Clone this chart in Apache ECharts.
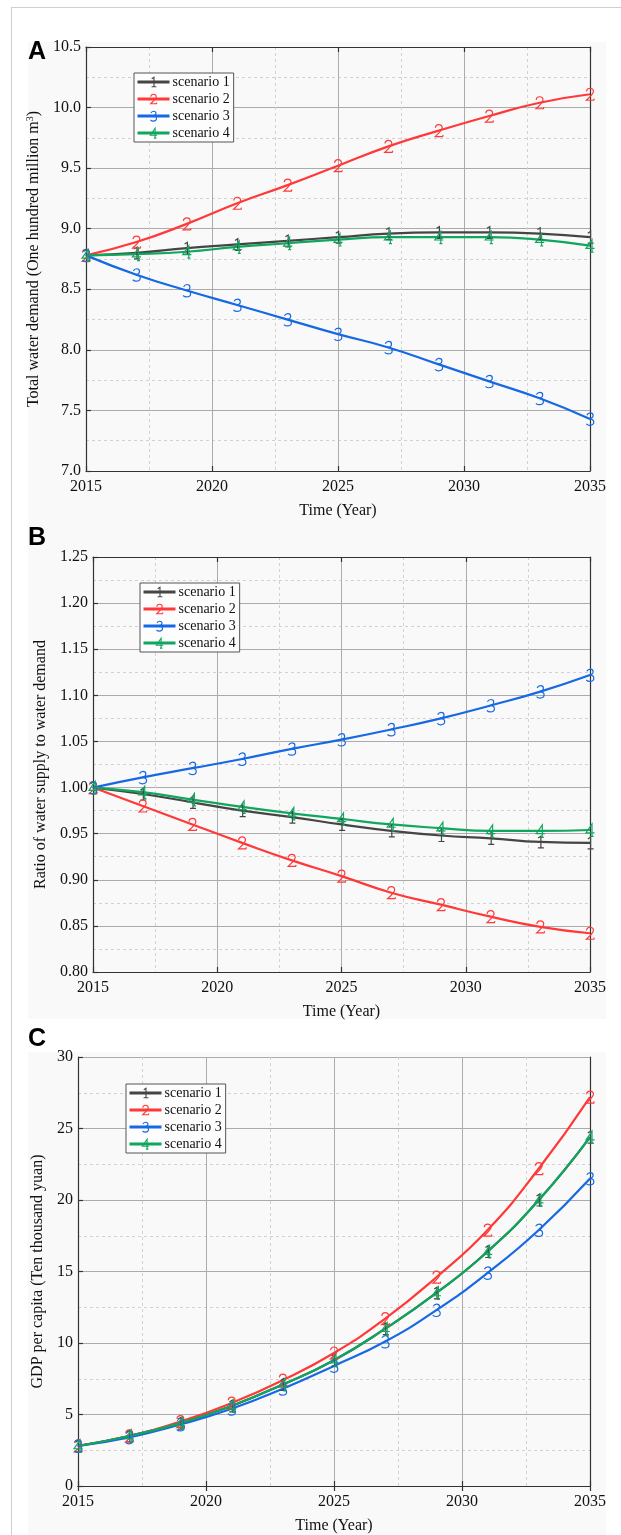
<!DOCTYPE html>
<html>
<head>
<meta charset="utf-8">
<script src="https://cdn.jsdelivr.net/npm/echarts@6/dist/echarts.min.js"></script>
<style>
  html, body { margin: 0; padding: 0; background: #fff; }
  #main { width: 621px; height: 1535px; }
</style>
</head>
<body>
<div id="main"></div>
<script>
const years = [2015, 2017, 2019, 2021, 2023, 2025, 2027, 2029, 2031, 2033, 2035];
const scenarioNames = ["scenario 1", "scenario 2", "scenario 3", "scenario 4"];

// A: total water demand
const demandS1 = [8.78, 8.80, 8.84, 8.87, 8.90, 8.93, 8.96, 8.97, 8.97, 8.96, 8.93];
const demandS2 = [8.78, 8.89, 9.04, 9.21, 9.36, 9.52, 9.68, 9.81, 9.93, 10.04, 10.11];
const demandS3 = [8.78, 8.62, 8.49, 8.37, 8.25, 8.13, 8.02, 7.88, 7.74, 7.60, 7.43];
const demandS4 = [8.78, 8.79, 8.81, 8.85, 8.88, 8.91, 8.93, 8.93, 8.93, 8.91, 8.86];

// B: ratio of supply to demand
const ratioS1 = [1.000, 0.993, 0.984, 0.975, 0.968, 0.960, 0.953, 0.948, 0.945, 0.941, 0.940];
const ratioS2 = [1.000, 0.980, 0.960, 0.940, 0.921, 0.904, 0.886, 0.873, 0.860, 0.849, 0.842];
const ratioS3 = [1.000, 1.011, 1.021, 1.031, 1.042, 1.052, 1.063, 1.075, 1.089, 1.104, 1.122];
const ratioS4 = [1.000, 0.995, 0.987, 0.979, 0.972, 0.966, 0.960, 0.956, 0.953, 0.953, 0.954];

// C: GDP per capita
const gdpS1 = [2.8, 3.5, 4.4, 5.6, 7.1, 8.8, 11.0, 13.5, 16.4, 20.0, 24.4];
const gdpS2 = [2.8, 3.5, 4.5, 5.8, 7.4, 9.3, 11.7, 14.6, 17.9, 22.2, 27.2];
const gdpS3 = [2.8, 3.4, 4.3, 5.4, 6.8, 8.4, 10.1, 12.3, 14.9, 17.9, 21.5];
const gdpS4 = [2.8, 3.5, 4.4, 5.6, 7.1, 8.8, 11.0, 13.5, 16.4, 20.0, 24.4];

const colors = ["#454545", "#ff3838", "#1668e3", "#0fa65e"];

// digit-shaped markers (stroked)
const digitPaths = [
  "path://M-2 0M12 14M2.8 3L5.6 1.2L5.6 13M2.6 13L8.6 13",
  "path://M-2 0M12 14M1.6 4.2C1.8 2 3.3 1 5 1C7 1 8.4 2.4 8.4 4.2C8.4 6.6 5.4 9.2 1.4 13L8.8 13L9.3 11.4",
  "path://M-2 0M12 14M1.8 3.2C2.6 1.8 3.8 1 5.2 1C7 1 8.1 2.2 8.1 3.7C8.1 5.4 6.6 6.6 4.3 6.9C7 6.9 8.8 8.3 8.8 10.2C8.8 12.3 7 13.4 4.8 13.4C3.3 13.4 2.2 12.9 1.3 12",
  "path://M-2 0M12 14M7 13.4L7 1L1 9.8L9.6 9.8M5.6 13.4L8.6 13.4"
];

const serif = "Liberation Serif";

const panels = [
  {
    grid: { left: 86, top: 47, right: 31, height: 424 },
    yMin: 7, yMax: 10.5, yInterval: 0.5, digits: 1,
    yName: "Total water demand (One hundred million m{sup|3})", yGap: 34,
    data: [demandS1, demandS2, demandS3, demandS4],
    legend: { left: 134, top: 73 }
  },
  {
    grid: { left: 93, top: 557, right: 31, height: 415 },
    yMin: 0.8, yMax: 1.25, yInterval: 0.05, digits: 2,
    yName: "Ratio of water supply to water demand", yGap: 40,
    data: [ratioS1, ratioS2, ratioS3, ratioS4],
    legend: { left: 140, top: 583 }
  },
  {
    grid: { left: 78, top: 1057, right: 31, height: 432 },
    yMin: 0, yMax: 30, yInterval: 5, digits: 0,
    yName: "GDP per capita (Ten thousand yuan)", yGap: 30,
    data: [gdpS1, gdpS2, gdpS3, gdpS4],
    legend: { left: 126, top: 1084 }
  }
];

const option = {
  animation: false,
  backgroundColor: "#ffffff",
  grid: [],
  xAxis: [],
  yAxis: [],
  legend: [],
  series: [],
  graphic: [
    { type: "rect", z: -100, silent: true, shape: { x: 28, y: 42, width: 578, height: 977 }, style: { fill: "#f9f9f9" } },
    { type: "rect", z: -100, silent: true, shape: { x: 28, y: 1052, width: 578, height: 483 }, style: { fill: "#f9f9f9" } },
    { type: "line", z: -90, silent: true, shape: { x1: 12, y1: 7.5, x2: 621, y2: 7.5 }, style: { stroke: "#cfcfcf", lineWidth: 1 } },
    { type: "line", z: -90, silent: true, shape: { x1: 11.5, y1: 7, x2: 11.5, y2: 1535 }, style: { stroke: "#cfcfcf", lineWidth: 1 } },
    { type: "text", left: 28, top: 40, style: { text: "A", font: "bold 25px 'Liberation Sans'", fill: "#000" } },
    { type: "text", left: 28, top: 526, style: { text: "B", font: "bold 25px 'Liberation Sans'", fill: "#000" } },
    { type: "text", left: 28, top: 1027, style: { text: "C", font: "bold 25px 'Liberation Sans'", fill: "#000" } }
  ]
};

const axisLineStyle = { color: "#333", width: 1.2 };

panels.forEach((p, i) => {
  option.grid.push(p.grid);

  // bottom axis
  option.xAxis.push({
    type: "value", gridIndex: i, min: 2015, max: 2035, interval: 5,
    name: "Time (Year)", nameLocation: "middle", nameGap: 32,
    nameTextStyle: { fontFamily: serif, fontSize: 16, color: "#111" },
    axisLine: { show: true, lineStyle: axisLineStyle },
    axisTick: { show: true, inside: true, length: 5, lineStyle: axisLineStyle },
    axisLabel: { fontFamily: serif, fontSize: 16, color: "#111", margin: 8, formatter: (v) => String(v) },
    splitLine: { show: true, lineStyle: { color: "#ababab", width: 1 } },
    minorTick: { show: false, splitNumber: 2 },
    minorSplitLine: { show: true, lineStyle: { color: "#d2d2d2", type: [3, 3], width: 1 } }
  });

  // left axis
  option.yAxis.push({
    type: "value", gridIndex: i, min: p.yMin, max: p.yMax, interval: p.yInterval,
    name: p.yName, nameLocation: "middle", nameGap: p.yGap,
    nameTextStyle: {
      fontFamily: serif, fontSize: 16, color: "#111",
      rich: { sup: { fontFamily: serif, fontSize: 10, color: "#111", verticalAlign: "top", padding: [0, 0, 8, 0] } }
    },
    axisLine: { show: true, lineStyle: axisLineStyle },
    axisTick: { show: true, inside: true, length: 5, lineStyle: axisLineStyle },
    axisLabel: {
      fontFamily: serif, fontSize: 16, color: "#111", margin: 5,
      formatter: (v) => v.toFixed(p.digits)
    },
    splitLine: { show: true, lineStyle: { color: "#ababab", width: 1 } },
    minorTick: { show: false, splitNumber: 2 },
    minorSplitLine: { show: true, lineStyle: { color: "#d2d2d2", type: [3, 3], width: 1 } }
  });

  option.legend.push({
    orient: "vertical",
    left: p.legend.left, top: p.legend.top,
    data: scenarioNames,
    itemWidth: 32, itemHeight: 14, itemGap: 3,
    padding: [2, 4, 2, 2],
    backgroundColor: "#fdfdfd",
    borderColor: "#555", borderWidth: 1, borderRadius: 0,
    selectedMode: false,
    textStyle: { fontFamily: serif, fontSize: 14, color: "#111", padding: [0, 0, 0, -2] },
    itemStyle: { borderWidth: 1.1 },
    lineStyle: { width: 3 }
  });

  p.data.forEach((vals, k) => {
    option.series.push({
      name: scenarioNames[k],
      type: "line",
      xAxisIndex: i, yAxisIndex: i,
      data: years.map((y, j) => [y, vals[j]]),
      smooth: true,
      symbol: digitPaths[k],
      symbolSize: 14,
      showAllSymbol: true,
      lineStyle: { color: colors[k], width: 2.2 },
      itemStyle: { color: "rgba(0,0,0,0)", borderColor: colors[k], borderWidth: 1.2 },
      emphasis: { disabled: true }
    });
  });
});

// top and right frame axes (ticks only)
panels.forEach((p, i) => {
  option.xAxis.push({
    type: "value", gridIndex: i, position: "top", min: 2015, max: 2035, interval: 5,
    axisLine: { show: true, lineStyle: axisLineStyle },
    axisTick: { show: true, inside: true, length: 5, lineStyle: axisLineStyle },
    axisLabel: { show: false }, splitLine: { show: false }
  });
  option.yAxis.push({
    type: "value", gridIndex: i, position: "right", min: p.yMin, max: p.yMax, interval: p.yInterval,
    axisLine: { show: true, lineStyle: axisLineStyle },
    axisTick: { show: false },
    axisLabel: { show: false }, splitLine: { show: false }
  });
});

const chart = echarts.init(document.getElementById("main"), null, { renderer: "canvas" });
chart.setOption(option);
</script>
</body>
</html>
